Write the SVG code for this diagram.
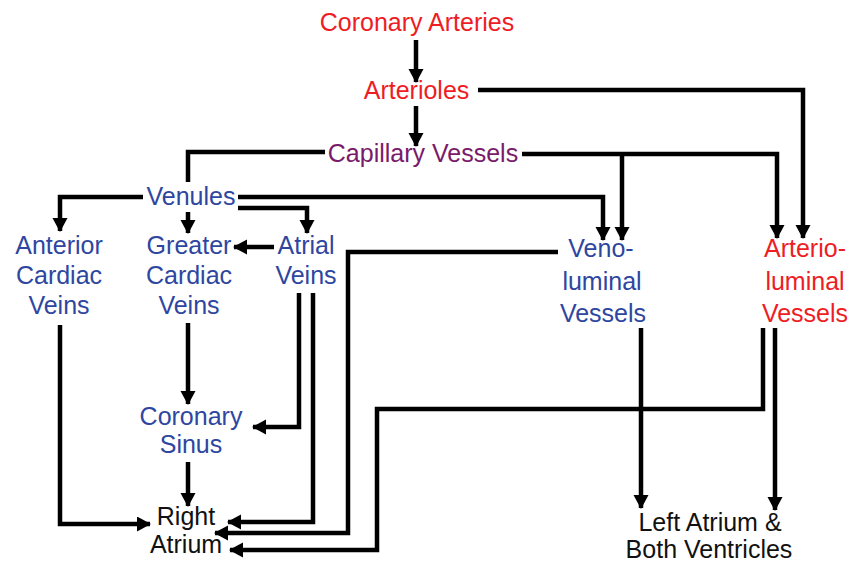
<svg xmlns="http://www.w3.org/2000/svg" width="861" height="565" viewBox="0 0 861 565">
<style>
text{font-family:"Liberation Sans",Arial,sans-serif;font-size:25px;text-anchor:middle}
.red{fill:#ee1c24}.blue{fill:#2e46a0}.purple{fill:#7a1a6a}.black{fill:#111}
.c path{fill:none;stroke:#000;stroke-width:4.5;stroke-linejoin:miter}
.c path.a{marker-end:url(#ah)}
</style>
<defs>
<marker id="ah" markerUnits="userSpaceOnUse" markerWidth="16" markerHeight="16" refX="13" refY="7.5" orient="auto">
<path d="M0,0 L14,7.5 L0,15 z" fill="#000"/>
</marker>
</defs>
<rect width="861" height="565" fill="#fff"/>
<g class="c" id="connectors">
<path class="a" d="M416,40 V82"/>
<path class="a" d="M416,106 V146"/>
<path class="a" d="M478,90 H803 V238"/>
<path class="a" d="M522,154 H777 V238"/>
<path class="a" d="M622,154 V240"/>
<path d="M325,152 H188 V182"/>
<path class="a" d="M143,197 H60 V231"/>
<path class="a" d="M188,212 V233"/>
<path class="a" d="M238,208 H307 V233"/>
<path class="a" d="M238,197 H603 V240"/>
<path class="a" d="M274,247 H234"/>
<path class="a" d="M558,252 H348 V533 H215"/>
<path class="a" d="M188,323 V404"/>
<path class="a" d="M299,293 V427 H253"/>
<path class="a" d="M313,293 V522 H228"/>
<path class="a" d="M60,325 V524 H150"/>
<path class="a" d="M188,462 V506"/>
<path class="a" d="M641,328 V508"/>
<path class="a" d="M763,328 V409 H377 V550 H230"/>
<path class="a" d="M775,328 V510"/>
</g>
<g id="coronary-arteries"><text class="red" x="417" y="31">Coronary Arteries</text></g>
<g id="arterioles"><text class="red" x="416.5" y="99">Arterioles</text></g>
<g id="capillary-vessels"><text class="purple" x="423" y="162">Capillary Vessels</text></g>
<g id="venules"><text class="blue" x="191" y="205">Venules</text></g>
<g id="anterior-cardiac-veins"><text class="blue" x="59" y="254">Anterior</text><text class="blue" x="59" y="284">Cardiac</text><text class="blue" x="59" y="314">Veins</text></g>
<g id="greater-cardiac-veins"><text class="blue" x="189" y="254">Greater</text><text class="blue" x="189" y="284">Cardiac</text><text class="blue" x="189" y="314">Veins</text></g>
<g id="atrial-veins"><text class="blue" x="306" y="254">Atrial</text><text class="blue" x="306" y="284">Veins</text></g>
<g id="veno-luminal-vessels"><text class="blue" x="601" y="257">Veno-</text><text class="blue" x="602" y="290">luminal</text><text class="blue" x="603" y="322">Vessels</text></g>
<g id="arterio-luminal-vessels"><text class="red" x="805" y="257">Arterio-</text><text class="red" x="805" y="290">luminal</text><text class="red" x="805" y="322">Vessels</text></g>
<g id="coronary-sinus"><text class="blue" x="191" y="425">Coronary</text><text class="blue" x="191" y="453">Sinus</text></g>
<g id="right-atrium"><text class="black" x="186" y="525">Right</text><text class="black" x="186" y="553">Atrium</text></g>
<g id="left-atrium-both-ventricles"><text class="black" x="710" y="531">Left Atrium &amp;</text><text class="black" x="709" y="558">Both Ventricles</text></g>
</svg>
